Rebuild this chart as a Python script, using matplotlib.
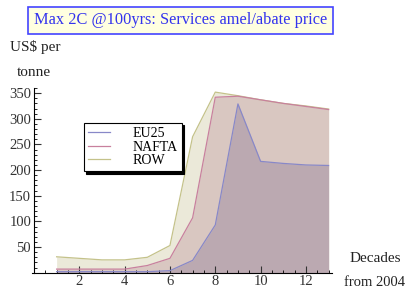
import numpy as np
import matplotlib
matplotlib.use("Agg")
import matplotlib.pyplot as plt
import matplotlib.ticker as ticker

# decades from 2004
decades = [1, 2, 3, 4, 5, 6, 7, 8, 9, 10, 11, 12, 13]
eu25 = [2, 2, 2, 2, 2, 4, 24, 93, 329, 217, 213, 210, 209]
nafta = [7, 7, 7, 7, 14, 28, 107, 342, 344, 337, 330, 324, 318]
row = [31, 28, 25, 25, 30, 53, 265, 352, 345, 337, 330, 325, 319]

plt.rc("font", family="Liberation Serif")

fig = plt.figure(figsize=(4.11, 2.92), dpi=100)
ax = fig.add_axes([0.0771, 0.0661, 0.7307, 0.6325])

# fills, drawn from back to front
ax.fill_between(decades, 0, row, color="#ebe9d9", lw=0)
ax.fill_between(decades, 0, nafta, color="#d9c7c1", lw=0)
ax.fill_between(decades, 0, eu25, color="#bba9b1", lw=0)

ax.plot(decades, row, color="#c4c28a", lw=0.9, label="ROW")
ax.plot(decades, nafta, color="#c8809e", lw=0.9, label="NAFTA")
ax.plot(decades, eu25, color="#8888c8", lw=0.9, label="EU25")

ax.set_xlim(-0.1, 13.15)
ax.set_ylim(0, 360)

ax.spines["top"].set_visible(False)
ax.spines["right"].set_visible(False)
ax.spines["bottom"].set_position(("data", 0))
ax.spines["left"].set_position(("data", 0))

ax.xaxis.set_major_locator(ticker.FixedLocator([2, 4, 6, 8, 10, 12]))
ax.xaxis.set_minor_locator(ticker.MultipleLocator(0.5))
ax.yaxis.set_major_locator(ticker.FixedLocator([50, 100, 150, 200, 250, 300, 350]))
ax.yaxis.set_minor_locator(ticker.MultipleLocator(10))
ax.tick_params(which="major", direction="in", length=5, width=0.8, labelsize=10.5, pad=2, colors="#333333")
ax.tick_params(which="minor", direction="in", length=2.5, width=0.6)
ax.tick_params(axis="x", pad=1.5)

# legend with drop shadow
handles, labels = ax.get_legend_handles_labels()
order = [2, 1, 0]
leg = ax.legend([handles[i] for i in order], [labels[i] for i in order],
                loc="upper left", bbox_to_anchor=(0.15, 0.85), fontsize=10,
                fancybox=False, shadow={"color": "black", "alpha": 1},
                edgecolor="black", framealpha=1, handlelength=1.6,
                handletextpad=1.6, borderpad=0.3, labelspacing=0.05)
leg.get_frame().set_linewidth(0.8)

fig.text(0.44, 0.93, "Max 2C @100yrs: Services amel/abate price", ha="center", va="center",
         fontsize=11.8, color="#3333ee",
         bbox=dict(boxstyle="square,pad=0.35", facecolor="#ffffe0", edgecolor="#4444ff", lw=1.2))

fig.text(0.025, 0.838, "US\\$ per", fontsize=11, color="#222222", va="center")
fig.text(0.042, 0.752, "tonne", fontsize=11, color="#222222", va="center")
fig.text(0.912, 0.116, "Decades", fontsize=11, color="#222222", ha="center", va="center")
fig.text(0.912, 0.031, "from 2004", fontsize=10.5, color="#222222", ha="center", va="center")

plt.savefig("out.png", dpi=100)
